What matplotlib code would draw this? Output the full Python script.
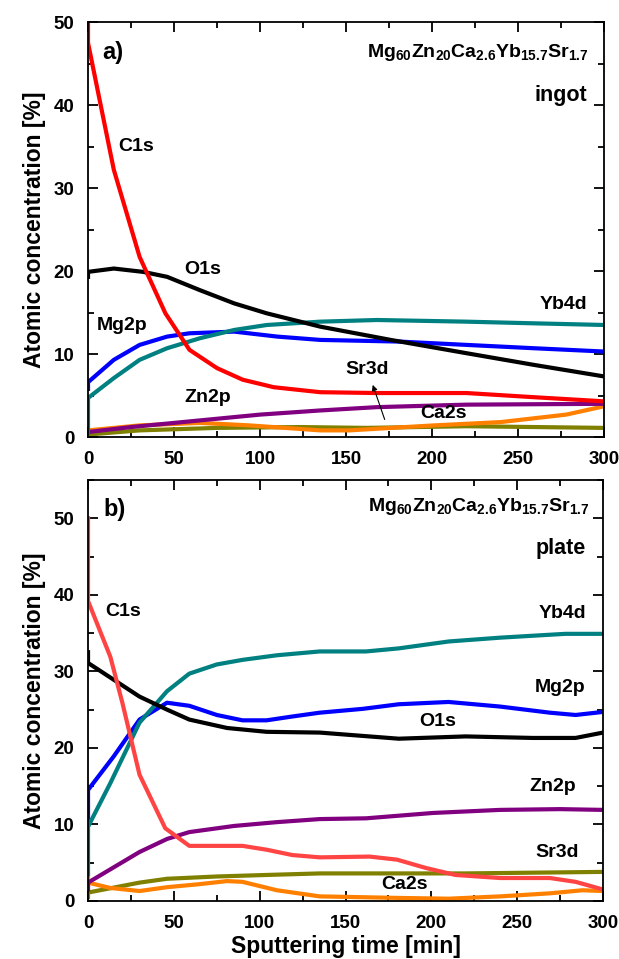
import numpy as np
import matplotlib
matplotlib.use("Agg")
import matplotlib.pyplot as plt
from matplotlib.ticker import MultipleLocator

plt.rcParams['font.family'] = ['Liberation Sans', 'DejaVu Sans']
plt.rcParams['font.weight'] = 'bold'
plt.rcParams['mathtext.fontset'] = 'custom'
plt.rcParams['mathtext.rm'] = 'Liberation Sans:bold'
plt.rcParams['mathtext.bf'] = 'Liberation Sans:bold'
plt.rcParams['mathtext.default'] = 'bf'

# ---- panel a) ingot ----
a_c1s_x = [0, 0, 15, 30, 45, 59, 75, 90, 108, 135, 168, 220, 259, 300]
a_c1s_y = [50, 47.5, 32.2, 21.7, 14.9, 10.5, 8.3, 6.9, 6.0, 5.4, 5.3, 5.3, 4.8, 4.3]
a_o1s_x = [0, 0, 15, 32, 46, 65, 85, 104, 135, 176, 220, 259, 300]
a_o1s_y = [19.3, 19.9, 20.3, 19.9, 19.3, 17.7, 16.1, 14.9, 13.3, 11.7, 10.1, 8.7, 7.3]
a_mg_x = [0, 0, 15, 30, 46, 59, 85, 110, 135, 181, 220, 259, 300]
a_mg_y = [5.8, 6.6, 9.3, 11.1, 12.1, 12.5, 12.7, 12.1, 11.7, 11.5, 11.1, 10.7, 10.3]
a_yb_x = [0, 0, 15, 30, 46, 65, 85, 104, 135, 168, 220, 259, 300]
a_yb_y = [0.5, 4.7, 7.1, 9.3, 10.7, 11.9, 12.9, 13.5, 13.9, 14.1, 13.9, 13.7, 13.5]
a_zn_x = [0, 25, 50, 100, 135, 168, 220, 300]
a_zn_y = [0.6, 1.2, 1.7, 2.7, 3.2, 3.6, 3.9, 4.0]
a_ca_x = [0, 30, 65, 94, 135, 152, 201, 240, 278, 300]
a_ca_y = [0.8, 1.4, 1.7, 1.4, 0.8, 0.8, 1.4, 1.8, 2.7, 3.7]
a_sr_x = [0, 30, 75, 123, 162, 220, 300]
a_sr_y = [0.3, 0.8, 1.1, 1.2, 1.1, 1.3, 1.1]

# ---- panel b) plate ----
b_c1s_x = [0, 0, 13, 20, 30, 45, 59, 90, 104, 119, 135, 164, 180, 197, 214, 240, 269, 284, 300]
b_c1s_y = [50, 39.2, 31.9, 25.9, 16.5, 9.5, 7.2, 7.2, 6.7, 6.0, 5.7, 5.8, 5.4, 4.3, 3.4, 3.0, 3.0, 2.5, 1.5]
b_o1s_x = [0, 0, 15, 30, 46, 59, 81, 104, 135, 181, 220, 259, 284, 300]
b_o1s_y = [32.5, 31.1, 28.9, 26.7, 25.0, 23.7, 22.6, 22.1, 22.0, 21.2, 21.5, 21.3, 21.3, 22.0]
b_mg_x = [0, 0, 15, 30, 46, 59, 75, 90, 104, 119, 135, 160, 181, 210, 240, 269, 284, 300]
b_mg_y = [10, 14.5, 18.9, 23.7, 25.9, 25.5, 24.3, 23.6, 23.6, 24.1, 24.6, 25.1, 25.7, 26.0, 25.4, 24.6, 24.3, 24.7]
b_yb_x = [0, 0, 13, 30, 46, 59, 75, 90, 110, 135, 162, 181, 210, 240, 278, 300]
b_yb_y = [3.5, 9.7, 15.4, 23.3, 27.4, 29.7, 30.9, 31.5, 32.1, 32.6, 32.6, 33.0, 33.9, 34.4, 34.9, 34.9]
b_zn_x = [0, 0, 30, 46, 59, 85, 110, 135, 162, 201, 240, 275, 300]
b_zn_y = [1.5, 2.4, 6.4, 8.1, 9.0, 9.8, 10.3, 10.7, 10.8, 11.5, 11.9, 12.0, 11.9]
b_ca_x = [0, 0, 13, 30, 46, 65, 81, 90, 110, 135, 181, 210, 240, 269, 288, 300]
b_ca_y = [3.0, 2.4, 1.7, 1.3, 1.8, 2.2, 2.6, 2.5, 1.4, 0.6, 0.4, 0.3, 0.6, 1.0, 1.4, 1.3]
b_sr_x = [0, 0, 30, 46, 75, 104, 135, 162, 220, 300]
b_sr_y = [0.5, 1.1, 2.4, 2.9, 3.2, 3.4, 3.6, 3.6, 3.6, 3.8]

formula = r'Mg$_{60}$Zn$_{20}$Ca$_{2.6}$Yb$_{15.7}$Sr$_{1.7}$'

LW = 3.0
fig = plt.figure(figsize=(6.19, 9.59), dpi=100)
ax1 = fig.add_axes([0.1422, 0.5443, 0.8336, 0.4327])
ax2 = fig.add_axes([0.1422, 0.0605, 0.8320, 0.4390])


def style_axis(ax, ymax):
    ax.set_xlim(0, 300)
    ax.set_ylim(0, ymax)
    ax.xaxis.set_major_locator(MultipleLocator(50))
    ax.xaxis.set_minor_locator(MultipleLocator(25))
    ax.yaxis.set_major_locator(MultipleLocator(10))
    ax.yaxis.set_minor_locator(MultipleLocator(5))
    ax.tick_params(which='both', direction='in', top=True, right=True,
                   labelsize=13.5, width=1.3)
    ax.tick_params(which='major', length=7)
    ax.tick_params(which='minor', length=4)
    ax.tick_params(axis='x', which='major', pad=10)
    ax.tick_params(axis='y', which='major', pad=10)
    for sp in ax.spines.values():
        sp.set_linewidth(1.3)
    for lab in ax.get_xticklabels() + ax.get_yticklabels():
        lab.set_fontweight('bold')
    ax.set_ylabel('Atomic concentration [%]', fontsize=16.5, fontweight='bold', labelpad=5)


# panel a
ax1.plot(a_sr_x, a_sr_y, color='#808000', lw=LW)
ax1.plot(a_ca_x, a_ca_y, color='#FF8000', lw=LW)
ax1.plot(a_zn_x, a_zn_y, color='#800080', lw=LW)
ax1.plot(a_mg_x, a_mg_y, color='#0000FF', lw=LW)
ax1.plot(a_yb_x, a_yb_y, color='#008080', lw=LW)
ax1.plot(a_o1s_x, a_o1s_y, color='black', lw=LW)
ax1.plot(a_c1s_x, a_c1s_y, color='#FF0000', lw=LW)
style_axis(ax1, 50)

tk = dict(fontsize=14, fontweight='bold')
big = dict(fontsize=15.5, fontweight='bold')
ax1.text(8, 46.3, 'a)', fontsize=17, fontweight='bold', va='center')
ax1.text(17.5, 35, 'C1s', va='center', **tk)
ax1.text(56, 20.2, 'O1s', va='center', **tk)
ax1.text(5, 13.4, 'Mg2p', va='center', **tk)
ax1.text(56, 4.8, 'Zn2p', va='center', **tk)
ax1.text(290, 16.0, 'Yb4d', va='center', ha='right', **tk)
ax1.text(193, 2.8, 'Ca2s', va='center', **tk)
ax1.text(291, 46.3, formula, va='center', ha='right', **tk)
ax1.text(290, 41.2, 'ingot', va='center', ha='right', **big)
ax1.text(162, 8.1, 'Sr3d', va='center', ha='center', **tk)
ax1.annotate('', xy=(165, 6.6), xytext=(173, 1.8),
             arrowprops=dict(arrowstyle='-|>', color='black', lw=0.8,
                             mutation_scale=8))

# panel b
ax2.plot(b_sr_x, b_sr_y, color='#808000', lw=LW)
ax2.plot(b_ca_x, b_ca_y, color='#FF8000', lw=LW)
ax2.plot(b_zn_x, b_zn_y, color='#800080', lw=LW)
ax2.plot(b_mg_x, b_mg_y, color='#0000FF', lw=LW)
ax2.plot(b_yb_x, b_yb_y, color='#008080', lw=LW)
ax2.plot(b_o1s_x, b_o1s_y, color='black', lw=LW)
ax2.plot(b_c1s_x, b_c1s_y, color='#FF4444', lw=LW)
style_axis(ax2, 55)
ax2.set_xlabel('Sputtering time [min]', fontsize=16.5, fontweight='bold', labelpad=2)

ax2.text(9, 51.2, 'b)', fontsize=17, fontweight='bold', va='center')
ax2.text(10, 37.8, 'C1s', va='center', **tk)
ax2.text(292, 51.6, formula, va='center', ha='right', **tk)
ax2.text(290, 46.1, 'plate', va='center', ha='right', **big)
ax2.text(290, 37.6, 'Yb4d', va='center', ha='right', **tk)
ax2.text(290, 27.9, 'Mg2p', va='center', ha='right', **tk)
ax2.text(193, 23.4, 'O1s', va='center', **tk)
ax2.text(284, 15.0, 'Zn2p', va='center', ha='right', **tk)
ax2.text(286, 6.3, 'Sr3d', va='center', ha='right', **tk)
ax2.text(171, 2.1, 'Ca2s', va='center', **tk)

fig.savefig('out.png', dpi=100, facecolor='white')
